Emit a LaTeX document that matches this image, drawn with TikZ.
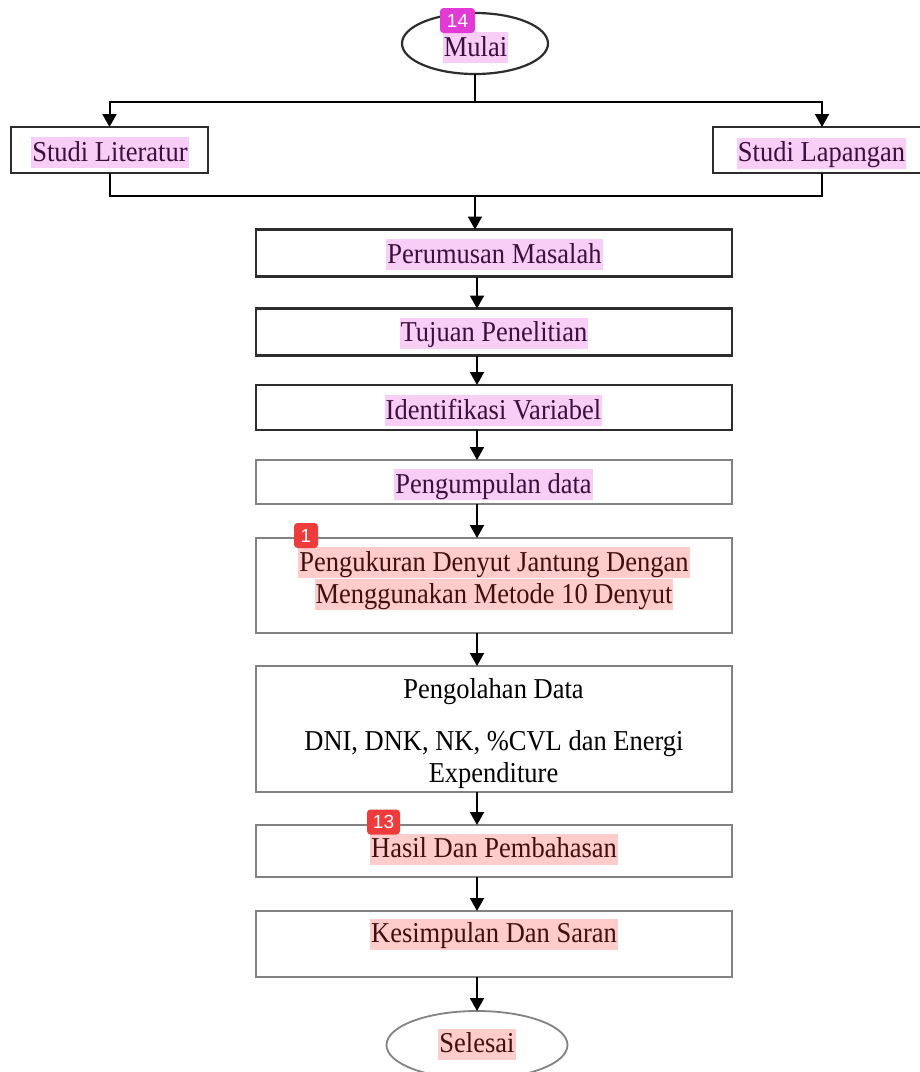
\documentclass[tikz,border=0pt]{standalone}
\usepackage{fontspec}
\setmainfont[FakeStretch=0.92]{Liberation Serif}
\newfontfamily\badgefont{Liberation Sans}
\usetikzlibrary{arrows.meta,shapes.geometric,calc}
\definecolor{pinkhl}{RGB}{248,206,246}
\definecolor{redhl}{RGB}{255,204,204}
\definecolor{pinktxt}{RGB}{60,15,60}
\definecolor{redtxt}{RGB}{65,15,15}
\definecolor{darkline}{RGB}{45,45,45}
\definecolor{greyline}{RGB}{130,130,130}
\definecolor{badgemag}{RGB}{226,59,213}
\definecolor{badgered}{RGB}{238,59,59}
\tikzset{
  darkbox/.style={draw=darkline, line width=2.2pt, inner sep=0pt, outer sep=0pt},
  greybox/.style={draw=greyline, line width=1.8pt, inner sep=0pt, outer sep=0pt},
  hlp/.style={fill=pinkhl, text=pinktxt, inner xsep=1pt, inner ysep=2.5pt, text height=21.5pt, text depth=4.5pt},
  hlr/.style={fill=redhl, text=redtxt, inner xsep=1pt, inner ysep=2.5pt, text height=21.5pt, text depth=4.5pt},
  plaintxt/.style={inner sep=0pt, anchor=base},
  badge/.style={rounded corners=3.5pt, text=white, font=\badgefont\fontsize{19}{19}\selectfont, minimum height=25pt, inner xsep=3pt, inner ysep=0pt},
  ln/.style={draw=black, line width=2pt},
  arr/.style={ln, -{Triangle[length=13pt,width=14pt]}}
}
\begin{document}
\begin{tikzpicture}[x=1pt, y=-1pt, font=\fontsize{28.8}{34}\selectfont]
\useasboundingbox (0,0) rectangle (920,1072);
\clip (0,0) rectangle (920,1072);
\fill[white] (0,0) rectangle (920,1072);
% shapes
\node[darkbox, ellipse, minimum width=146pt, minimum height=61pt] (mulai) at (475,43.5) {};
\node[darkbox, minimum width=197pt, minimum height=46pt] (lit) at (109.5,150) {};
\node[darkbox, minimum width=218pt, minimum height=46pt] (lap) at (822,150) {};
\node[darkbox, minimum width=476pt, minimum height=47pt] (per) at (494,253) {};
\node[darkbox, minimum width=476pt, minimum height=47pt] (tuj) at (494,332) {};
\node[darkbox, minimum width=476pt, minimum height=45pt] (ide) at (494,407.5) {};
\node[greybox, minimum width=476pt, minimum height=44pt] (pgd) at (494,482) {};
\node[greybox, minimum width=476pt, minimum height=95pt] (pgk) at (494,585.5) {};
\node[greybox, minimum width=476pt, minimum height=126pt] (pgo) at (494,729) {};
\node[greybox, minimum width=476pt, minimum height=52pt] (has) at (494,851) {};
\node[greybox, minimum width=476pt, minimum height=66pt] (kes) at (494,944) {};
\node[greybox, ellipse, minimum width=181pt, minimum height=68pt] (sel) at (477,1045) {};
% labels
\node[hlp] (tmulai) at (475.5,47.5) {Mulai};
\node[hlp] (tlit) at (110,152.5) {Studi Literatur};
\node[hlp] (tlap) at (821.5,153) {Studi Lapangan};
\node[hlp] (tper) at (494.5,254.5) {Perumusan Masalah};
\node[hlp] (ttuj) at (494,333) {Tujuan Penelitian};
\node[hlp] (tide) at (493.5,410.5) {Identifikasi Variabel};
\node[hlp] (tpgd) at (493.5,484.5) {Pengumpulan data};
\node[hlr] (tpgk1) at (494,562.5) {Pengukuran Denyut Jantung Dengan};
\node[hlr] (tpgk2) at (494,594.5) {Menggunakan Metode 10 Denyut};
\node[plaintxt] (tpgo1) at (493.5,698) {Pengolahan Data};
\node[plaintxt] (tpgo2) at (494,750) {DNI, DNK, NK, \%CVL dan Energi};
\node[plaintxt] (tpgo3) at (493.5,782) {Expenditure};
\node[hlr] (thas) at (494,849) {Hasil Dan Pembahasan};
\node[hlr] (tkes) at (494,934) {Kesimpulan Dan Saran};
\node[hlr] (tsel) at (477,1044) {Selesai};
% badges
\node[badge, fill=badgemag, minimum width=35pt] (b14) at (457.5,20.5) {14};
\node[badge, fill=badgered, minimum width=24pt] (b1) at (306,535.5) {1};
\node[badge, fill=badgered, minimum width=33pt] (b13) at (383.5,822) {13};
% connectors
\coordinate (j1) at (475,102);
\coordinate (j2) at (475,196);
\coordinate (ax) at (477,0);
\draw[ln] (mulai.south) -- (j1);
\draw[arr] (j1) -| (lit.north);
\draw[arr] (j1) -| (lap.north);
\draw[ln] (lit.south) |- (j2);
\draw[ln] (lap.south) |- (j2);
\draw[arr] (j2) -- (per.north -| j2);
\draw[arr] (per.south -| ax) -- (tuj.north -| ax);
\draw[arr] (tuj.south -| ax) -- (ide.north -| ax);
\draw[arr] (ide.south -| ax) -- (pgd.north -| ax);
\draw[arr] (pgd.south -| ax) -- (pgk.north -| ax);
\draw[arr] (pgk.south -| ax) -- (pgo.north -| ax);
\draw[arr] (pgo.south -| ax) -- (has.north -| ax);
\draw[arr] (has.south -| ax) -- (kes.north -| ax);
\draw[arr] (kes.south -| ax) -- (sel.north);
\end{tikzpicture}
\end{document}
